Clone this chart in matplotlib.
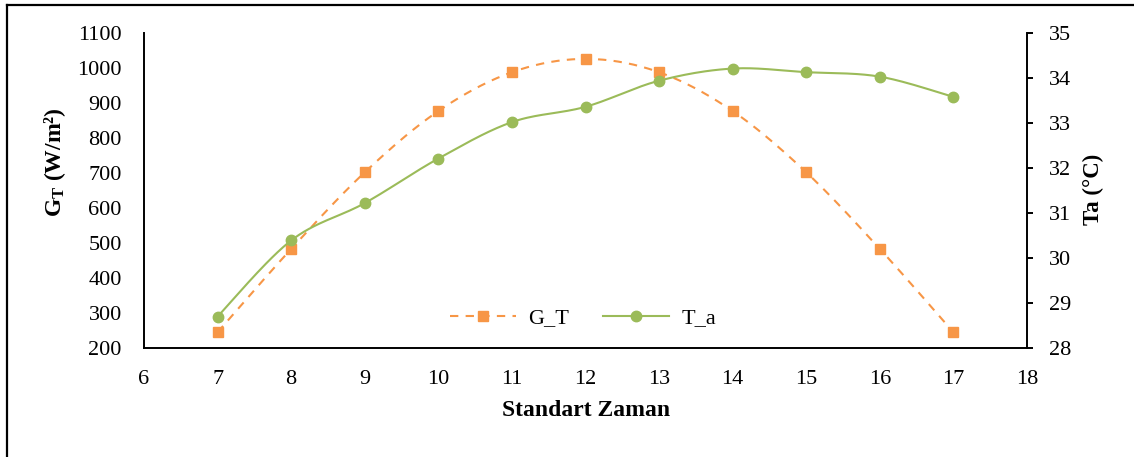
import numpy as np
import matplotlib
matplotlib.use("Agg")
import matplotlib.pyplot as plt
from matplotlib.lines import Line2D

plt.rcParams['font.family'] = ['Liberation Serif', 'DejaVu Serif']
plt.rcParams['mathtext.fontset'] = 'custom'
plt.rcParams['mathtext.rm'] = 'Liberation Serif'
plt.rcParams['mathtext.bf'] = 'Liberation Serif:bold'

hours = [7, 8, 9, 10, 11, 12, 13, 14, 15, 16, 17]
G_T = [245, 483, 702, 877, 988, 1026, 988, 877, 702, 483, 245]
T_a = [28.70, 30.39, 31.22, 32.21, 33.02, 33.36, 33.94, 34.21, 34.13, 34.03, 33.58]

left_ticks = list(range(200, 1101, 100))
right_ticks = list(range(28, 36))
x_ticks = list(range(6, 19))

ORANGE = '#F79646'
GREEN = '#9BBB59'

W, H = 1134, 457


def smooth(x, y, n=30):
    x = np.asarray(x, float)
    y = np.asarray(y, float)
    P = np.column_stack([x, y])
    pts = []
    for i in range(len(P) - 1):
        p0 = P[i - 1] if i > 0 else P[i]
        p1 = P[i]
        p2 = P[i + 1]
        p3 = P[i + 2] if i + 2 < len(P) else P[i + 1]
        c1 = p1 + (p2 - p0) / 6.0
        c2 = p2 - (p3 - p1) / 6.0
        t = np.linspace(0, 1, n)[:, None]
        seg = ((1 - t) ** 3) * p1 + 3 * ((1 - t) ** 2) * t * c1 + 3 * (1 - t) * t ** 2 * c2 + t ** 3 * p2
        pts.append(seg if i == 0 else seg[1:])
    pts = np.vstack(pts)
    return pts[:, 0], pts[:, 1]


fig = plt.figure(figsize=(W / 100, H / 100), dpi=100)
ax = fig.add_axes([144 / W, 1 - 348 / H, (1027 - 144) / W, (348 - 33) / H])
ax2 = ax.twinx()

sx, sy = smooth(hours, G_T)
ax.plot(sx, sy, color=ORANGE, lw=1.5, ls=(0, (4, 3.5)), zorder=2)
ax.plot(hours, G_T, ls='none', marker='s', ms=7.5, color=ORANGE, zorder=3)

tx, ty = smooth(hours, T_a)
ax2.plot(tx, ty, color=GREEN, lw=1.5, zorder=2)
ax2.plot(hours, T_a, ls='none', marker='o', ms=7.5, color=GREEN, zorder=3)

ax.set_xlim(6, 18)
ax.set_ylim(200, 1100)
ax2.set_ylim(28, 35)
ax.set_xticks(x_ticks)
ax.set_yticks(left_ticks)
ax2.set_yticks(right_ticks)

for a in (ax, ax2):
    a.spines['top'].set_visible(False)
    for s in a.spines.values():
        s.set_linewidth(1.4)
        s.set_color('black')
ax.spines['right'].set_visible(False)
ax2.spines['left'].set_visible(False)
ax2.spines['bottom'].set_visible(False)

ax.tick_params(axis='x', length=0, labelsize=16, pad=16)
ax.tick_params(axis='y', length=0, labelsize=16, pad=16)
ax2.tick_params(axis='y', length=4, width=1.4, direction='out', labelsize=16, pad=12)

fig.text(586 / W, 1 - 410 / H, 'Standart Zaman', fontsize=17, fontweight='bold', ha='center', va='center')
fig.text(55 / W, 1 - 162 / H, r'$\mathbf{G_T}$ (W/m²)', fontsize=17, fontweight='bold',
         rotation=90, ha='center', va='center')
fig.text(1093 / W, 1 - 189 / H, 'Ta (°C)', fontsize=16.5, fontweight='bold',
         rotation=90, ha='center', va='center')

h1 = Line2D([], [], color=ORANGE, lw=1.5, ls=(0, (4, 3.5)), marker='s', ms=7.5)
h2 = Line2D([], [], color=GREEN, lw=1.5, marker='o', ms=7.5)
fig.legend([h1, h2], ['G_T', 'T_a'], loc='center', bbox_to_anchor=(583 / W, 1 - 318 / H),
           ncol=2, frameon=False, fontsize=16, handlelength=3.0, columnspacing=1.5,
           handletextpad=0.55, borderaxespad=0, borderpad=0)

fig.add_artist(Line2D([6.5 / W, 6.5 / W], [0, 1 - 4.5 / H], transform=fig.transFigure, color='black', lw=1.6))
fig.add_artist(Line2D([6.5 / W, 1], [1 - 4.5 / H, 1 - 4.5 / H], transform=fig.transFigure, color='black', lw=1.6))

fig.savefig('out.png', dpi=100)
